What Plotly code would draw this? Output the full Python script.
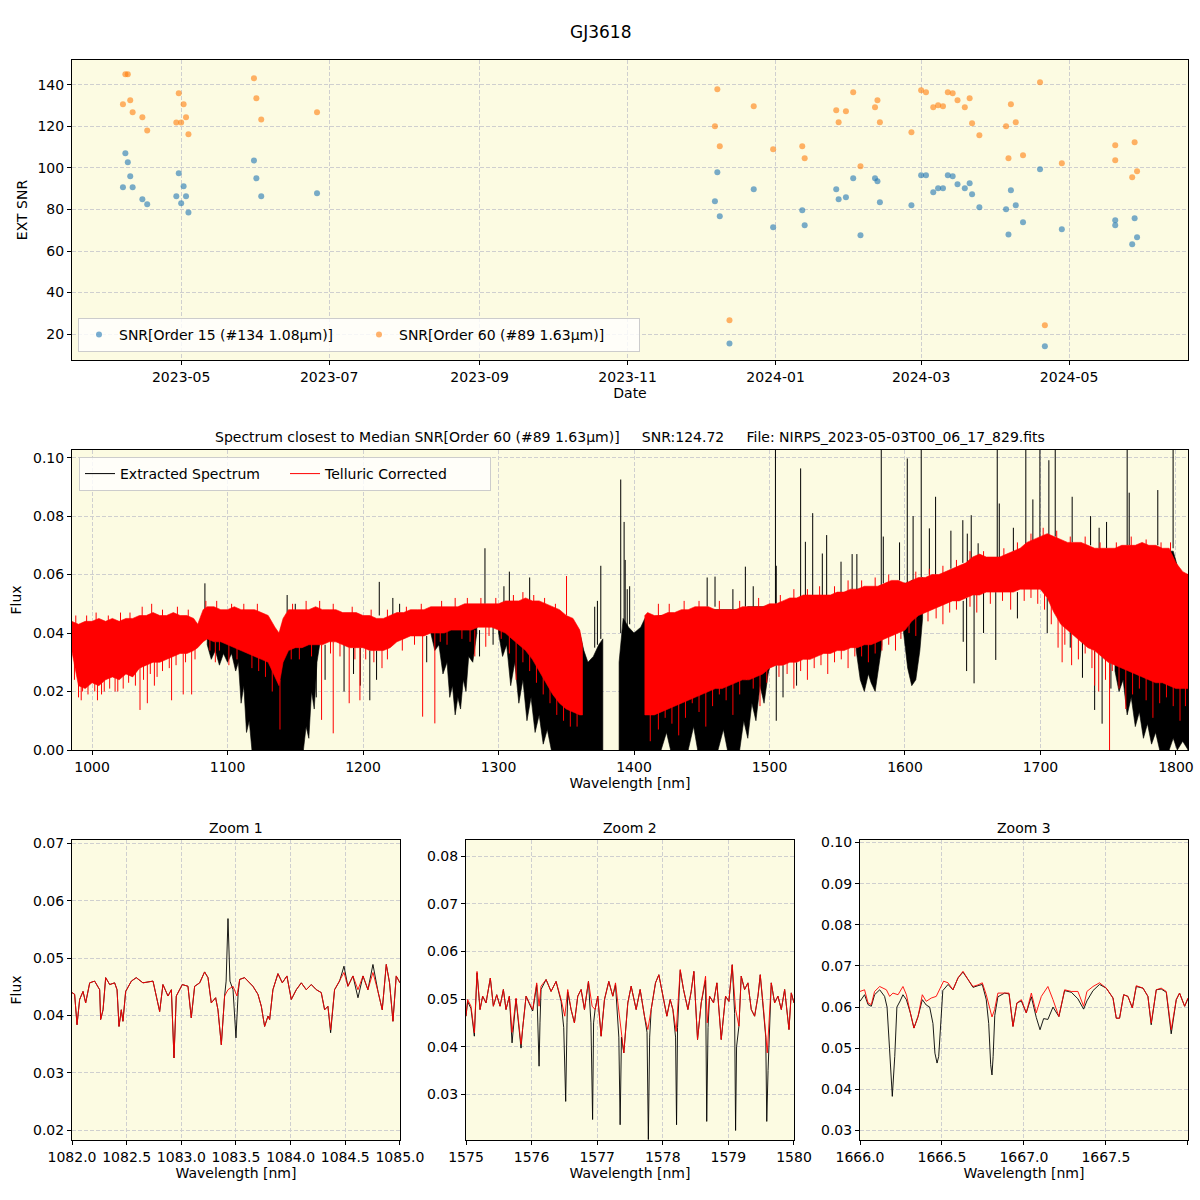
import plotly.graph_objects as go

# ---------------- SNR time series ----------------
snr_dates = [
    "2023-04-07", "2023-04-08", "2023-04-09", "2023-04-10", "2023-04-11", "2023-04-15", "2023-04-17",
    "2023-04-29", "2023-04-30", "2023-05-01", "2023-05-02", "2023-05-03", "2023-05-04",
    "2023-05-31", "2023-06-01", "2023-06-03", "2023-06-26",
    "2023-12-07", "2023-12-08", "2023-12-09", "2023-12-13", "2023-12-23", "2023-12-31",
    "2024-01-12", "2024-01-13", "2024-01-26", "2024-01-27", "2024-01-30",
    "2024-02-02", "2024-02-05", "2024-02-11", "2024-02-12", "2024-02-13", "2024-02-26",
    "2024-03-01", "2024-03-03", "2024-03-06", "2024-03-08", "2024-03-10", "2024-03-12",
    "2024-03-14", "2024-03-16", "2024-03-19", "2024-03-21", "2024-03-22", "2024-03-25",
    "2024-04-05", "2024-04-06", "2024-04-07", "2024-04-09", "2024-04-12", "2024-04-19",
    "2024-04-21", "2024-04-28", "2024-05-20", "2024-05-20", "2024-05-27", "2024-05-28", "2024-05-29",
]
snr_order15 = [
    90.7, 107.1, 102.7, 96.0, 90.7, 84.9, 82.5,
    86.4, 97.4, 83.0, 91.2, 86.4, 78.6,
    103.6, 95.0, 86.4, 87.8,
    84.0, 97.9, 76.7, 15.5, 89.7, 71.4,
    79.6, 72.4, 89.7, 84.9, 85.9,
    95.0, 67.6, 95.0, 93.6, 83.5, 82.0,
    96.5, 96.5, 88.3, 90.2, 90.2, 96.5,
    96.0, 92.1, 90.2, 92.6, 87.3, 81.1,
    80.1, 68.0, 89.3, 82.0, 73.8, 99.4,
    14.1, 70.5, 74.8, 72.4, 63.2, 75.8, 66.6,
]
snr_order60 = [
    130.7, 145.1, 145.1, 132.6, 126.8, 124.4, 118.1,
    121.9, 136.0, 121.9, 130.7, 124.4, 116.2,
    143.2, 133.6, 123.4, 126.8,
    120.1, 137.9, 110.5, 26.6, 129.7, 109.0,
    110.5, 104.7, 127.8, 122.0, 127.3,
    136.5, 100.8, 129.3, 132.6, 122.0, 117.2,
    137.4, 136.5, 129.3, 130.2, 129.7, 136.5,
    136.0, 132.6, 129.3, 133.6, 121.5, 115.8,
    120.1, 104.7, 130.7, 122.0, 106.1, 141.3,
    24.2, 102.3, 110.9, 103.7, 95.5, 112.4, 98.4,
]

# ---------------- Full spectrum (envelopes) ----------------
# Telluric corrected (red) band; None separates the two segments
red_w = [985, 990, 995, 1000, 1005, 1010, 1015, 1020, 1025, 1030, 1035, 1040, 1045, 1050, 1055, 1060,
         1065, 1070, 1075, 1078, 1082, 1085, 1090, 1095, 1100, 1105, 1110, 1115, 1120, 1125, 1130, 1135,
         1138, 1141, 1145, 1150, 1155, 1160, 1165, 1170, 1175, 1180, 1185, 1190, 1195, 1200, 1205, 1210,
         1215, 1220, 1225, 1230, 1235, 1240, 1245, 1250, 1255, 1260, 1265, 1270, 1275, 1280, 1285, 1290,
         1295, 1300, 1305, 1310, 1315, 1320, 1325, 1330, 1335, 1340, 1345, 1350, 1355, 1360, 1362, None,
         1408, 1410, 1415, 1420, 1425, 1430, 1435, 1440, 1445, 1450, 1455, 1460, 1465, 1470, 1475, 1480,
         1485, 1490, 1495, 1500, 1505, 1510, 1515, 1520, 1525, 1530, 1535, 1540, 1545, 1550, 1555, 1560,
         1565, 1570, 1575, 1580, 1585, 1590, 1595, 1600, 1605, 1610, 1615, 1620, 1625, 1630, 1635, 1640,
         1645, 1650, 1655, 1660, 1665, 1670, 1675, 1680, 1685, 1690, 1695, 1700, 1705, 1710, 1715, 1720,
         1725, 1730, 1735, 1740, 1745, 1750, 1755, 1760, 1765, 1770, 1775, 1780, 1785, 1790, 1795, 1800,
         1805, 1809]
red_hi = [0.044, 0.043, 0.044, 0.044, 0.045, 0.044, 0.045, 0.044, 0.045, 0.045, 0.046, 0.046, 0.047, 0.046, 0.046, 0.047,
          0.046, 0.046, 0.045, 0.043, 0.048, 0.049, 0.049, 0.048, 0.048, 0.049, 0.048, 0.048, 0.048, 0.047, 0.046, 0.042,
          0.040, 0.045, 0.048, 0.048, 0.048, 0.048, 0.049, 0.048, 0.048, 0.048, 0.047, 0.047, 0.047, 0.046, 0.046, 0.045,
          0.045, 0.046, 0.047, 0.047, 0.048, 0.048, 0.048, 0.049, 0.049, 0.049, 0.049, 0.049, 0.050, 0.050, 0.050, 0.050,
          0.050, 0.050, 0.051, 0.051, 0.051, 0.052, 0.051, 0.051, 0.050, 0.049, 0.048, 0.046, 0.045, 0.041, 0.036, None,
          0.046, 0.047, 0.046, 0.046, 0.047, 0.047, 0.048, 0.048, 0.049, 0.049, 0.049, 0.048, 0.048, 0.048, 0.048, 0.049,
          0.049, 0.049, 0.049, 0.050, 0.050, 0.051, 0.052, 0.052, 0.053, 0.053, 0.053, 0.053, 0.053, 0.054, 0.054, 0.055,
          0.055, 0.056, 0.056, 0.056, 0.057, 0.058, 0.058, 0.057, 0.058, 0.059, 0.059, 0.060, 0.060, 0.061, 0.062, 0.063,
          0.064, 0.066, 0.067, 0.066, 0.066, 0.066, 0.067, 0.068, 0.069, 0.071, 0.072, 0.073, 0.074, 0.073, 0.072, 0.071,
          0.071, 0.071, 0.070, 0.069, 0.069, 0.069, 0.069, 0.070, 0.070, 0.070, 0.071, 0.070, 0.070, 0.069, 0.069, 0.064,
          0.061, 0.060]
red_lo = [0.034, 0.022, 0.021, 0.023, 0.022, 0.024, 0.025, 0.024, 0.026, 0.025, 0.028, 0.029, 0.030, 0.030, 0.031, 0.032,
          0.033, 0.033, 0.034, 0.035, 0.037, 0.038, 0.037, 0.037, 0.036, 0.035, 0.034, 0.033, 0.032, 0.031, 0.030, 0.025,
          0.022, 0.030, 0.034, 0.035, 0.035, 0.036, 0.036, 0.036, 0.037, 0.037, 0.036, 0.035, 0.035, 0.035, 0.034, 0.034,
          0.034, 0.035, 0.037, 0.038, 0.039, 0.039, 0.039, 0.040, 0.040, 0.040, 0.041, 0.041, 0.041, 0.041, 0.042, 0.042,
          0.042, 0.041, 0.040, 0.038, 0.036, 0.034, 0.031, 0.027, 0.023, 0.019, 0.016, 0.014, 0.013, 0.012, 0.012, None,
          0.012, 0.012, 0.012, 0.013, 0.014, 0.015, 0.016, 0.017, 0.018, 0.019, 0.020, 0.021, 0.021, 0.022, 0.023, 0.024,
          0.024, 0.025, 0.026, 0.028, 0.029, 0.029, 0.030, 0.030, 0.031, 0.031, 0.032, 0.033, 0.033, 0.034, 0.034, 0.035,
          0.035, 0.036, 0.036, 0.037, 0.038, 0.039, 0.040, 0.041, 0.044, 0.046, 0.047, 0.048, 0.049, 0.050, 0.051, 0.051,
          0.052, 0.053, 0.053, 0.054, 0.054, 0.054, 0.054, 0.054, 0.055, 0.055, 0.055, 0.055, 0.052, 0.047, 0.043, 0.041,
          0.039, 0.037, 0.035, 0.034, 0.032, 0.030, 0.029, 0.028, 0.027, 0.026, 0.025, 0.024, 0.023, 0.023, 0.022, 0.021,
          0.021, 0.021]

# Extracted spectrum (black) telluric bands; None separates the bands
blk_w = [1085, 1088, 1091, 1094, 1097, 1100, 1103, 1106, 1108, 1110, 1112, 1114, 1116, 1118, 1130, 1135, 1138,
         1141, 1150, 1156, 1158, 1160, 1162, 1164, 1166, 1168, None,
         1250, 1253, 1256, 1259, 1262, 1264, 1266, 1268, 1270, 1272, 1274, 1276, 1278, 1281, 1284, None,
         1300, 1303, 1306, 1309, 1312, 1315, 1318, 1321, 1324, 1327, 1330, 1333, 1336, 1339, 1360, 1363, 1366,
         1370, 1374, 1377, None,
         1389, 1392, 1396, 1400, 1405, 1408, 1420, 1424, 1427, 1440, 1444, 1447, 1462, 1466, 1469, 1478, 1481,
         1484, 1487, 1490, 1493, 1496, 1499, 1501, None,
         1564, 1567, 1570, 1573, 1575, 1578, 1581, 1583, None,
         1599, 1602, 1605, 1608, 1611, 1613, None,
         1755, 1758, 1761, 1764, 1767, 1770, 1773, 1776, 1779, 1782, 1785, 1788, 1795, 1798, 1801, 1805, 1809]
blk_hi = [0.046, 0.046, 0.046, 0.046, 0.046, 0.046, 0.046, 0.046, 0.046, 0.046, 0.045, 0.045, 0.045, 0.045, 0.045, 0.041, 0.039,
          0.044, 0.046, 0.045, 0.045, 0.045, 0.045, 0.045, 0.045, 0.046, None,
          0.047, 0.047, 0.047, 0.047, 0.047, 0.047, 0.047, 0.047, 0.047, 0.047, 0.047, 0.047, 0.048, 0.048, 0.048, None,
          0.049, 0.049, 0.049, 0.049, 0.049, 0.049, 0.049, 0.049, 0.049, 0.049, 0.049, 0.048, 0.048, 0.047, 0.040, 0.034, 0.030,
          0.032, 0.036, 0.038, None,
          0.030, 0.045, 0.042, 0.040, 0.042, 0.045, 0.046, 0.046, 0.046, 0.047, 0.048, 0.048, 0.048, 0.048, 0.048, 0.048, 0.048,
          0.049, 0.049, 0.049, 0.049, 0.049, 0.049, 0.049, None,
          0.055, 0.055, 0.055, 0.055, 0.055, 0.055, 0.056, 0.056, None,
          0.057, 0.057, 0.058, 0.058, 0.058, 0.059, None,
          0.068, 0.068, 0.068, 0.069, 0.069, 0.069, 0.069, 0.070, 0.069, 0.069, 0.069, 0.068, 0.068, 0.068, 0.063, 0.060, 0.060]
blk_lo = [0.036, 0.031, 0.034, 0.029, 0.033, 0.030, 0.033, 0.027, 0.030, 0.016, 0.022, 0.006, 0.010, 0.0, 0.0, 0.0, 0.0,
          0.0, 0.0, 0.0, 0.008, 0.004, 0.020, 0.014, 0.030, 0.036, None,
          0.040, 0.034, 0.036, 0.026, 0.030, 0.018, 0.022, 0.012, 0.018, 0.014, 0.024, 0.020, 0.032, 0.030, 0.040, None,
          0.040, 0.032, 0.036, 0.022, 0.030, 0.016, 0.024, 0.010, 0.018, 0.006, 0.012, 0.002, 0.007, 0.0, 0.0, 0.0, 0.0,
          0.0, 0.0, 0.0, None,
          0.0, 0.0, 0.0, 0.0, 0.0, 0.0, 0.0, 0.006, 0.0, 0.0, 0.008, 0.0, 0.0, 0.007, 0.0, 0.0, 0.010,
          0.004, 0.016, 0.010, 0.022, 0.016, 0.026, 0.030, None,
          0.034, 0.024, 0.020, 0.026, 0.023, 0.020, 0.030, 0.036, None,
          0.040, 0.028, 0.022, 0.024, 0.034, 0.045, None,
          0.027, 0.020, 0.024, 0.012, 0.018, 0.008, 0.013, 0.004, 0.009, 0.002, 0.006, 0.0, 0.0, 0.004, 0.0, 0.003, 0.0]

# Black emission spikes: wavelength, base, peak
spike_w = [1083.3, 1144, 1150, 1212, 1222, 1227, 1290, 1304, 1308, 1323, 1371, 1373, 1375.5, 1390.2, 1392.7,
           1393.5, 1395, 1396.8, 1454, 1459.8, 1473, 1482.2, 1488, 1504.4, 1505, 1523, 1526.5, 1531.9, 1539,
           1542.2, 1552.8, 1561, 1564.5, 1582.5, 1584, 1596, 1601.7, 1606, 1612, 1618, 1622.6, 1633.9, 1642.7,
           1646, 1648.9, 1654, 1668.1, 1669.6, 1680, 1689.2, 1694.4, 1699.6, 1706.2, 1710.9, 1723.4, 1737,
           1743.3, 1748.8, 1764, 1765.5, 1786.6, 1797.9]
spike_base = [0.046, 0.047, 0.047, 0.046, 0.046, 0.047, 0.050, 0.050, 0.050, 0.051, 0.035, 0.036, 0.038, 0.040, 0.040,
              0.040, 0.040, 0.043, 0.049, 0.049, 0.048, 0.049, 0.049, 0.050, 0.050, 0.052, 0.052, 0.053, 0.053,
              0.053, 0.054, 0.055, 0.055, 0.056, 0.057, 0.058, 0.057, 0.058, 0.059, 0.060, 0.060, 0.062, 0.064,
              0.064, 0.065, 0.066, 0.066, 0.066, 0.068, 0.070, 0.071, 0.072, 0.073, 0.073, 0.071, 0.070,
              0.069, 0.069, 0.070, 0.070, 0.070, 0.069]
spike_peak = [0.057, 0.053, 0.050, 0.0575, 0.052, 0.050, 0.069, 0.056, 0.061, 0.059, 0.049, 0.051, 0.063, 0.0925, 0.078,
              0.065, 0.055, 0.056, 0.059, 0.0593, 0.055, 0.0627, 0.056, 0.105, 0.063, 0.0963, 0.0712, 0.081, 0.0672,
              0.0735, 0.0644, 0.067, 0.067, 0.105, 0.073, 0.071, 0.0997, 0.080, 0.105, 0.0758, 0.0866, 0.075, 0.0786,
              0.074, 0.0803, 0.0707, 0.105, 0.0843, 0.076, 0.105, 0.0857, 0.105, 0.0991, 0.105, 0.0866, 0.080,
              0.076, 0.078, 0.105, 0.088, 0.0889, 0.105]

# Black absorption lines below the red band: wavelength, top, bottom
bdip_w = [1165.5, 1172, 1186, 1193, 1198, 1205, 1210, 1247, 1286, 1296, 1505, 1510,
          1520, 1643, 1645.5, 1651, 1658, 1667, 1683, 1705, 1722, 1731, 1740, 1745.5, 1752]
bdip_top = [0.036, 0.036, 0.036, 0.035, 0.035, 0.034, 0.034, 0.039, 0.041, 0.042,
            0.029, 0.029, 0.030, 0.051, 0.052, 0.053, 0.054, 0.054, 0.054, 0.052, 0.041, 0.037, 0.034, 0.032, 0.030]
bdip_bot = [0.018, 0.024, 0.020, 0.026, 0.022, 0.017, 0.024, 0.030, 0.032, 0.036,
            0.010, 0.018, 0.022, 0.037, 0.027, 0.0228, 0.040, 0.0308, 0.045, 0.040, 0.035, 0.0247, 0.0137, 0.009, 0.021]

# Red absorption lines: wavelength, top, bottom
rdip_w = [990, 993, 1007, 1019, 1035.4, 1040.8, 1046, 1058.7, 1067.3, 1073.5, 1091, 1101, 1138.7,
          1169.4, 1178, 1189.8, 1197.7, 1244, 1253, 1282.5, 1290.6, 1313, 1350.2, 1716, 1740, 1751]
rdip_top = [0.026, 0.025, 0.024, 0.026, 0.029, 0.030, 0.031, 0.032, 0.033, 0.034, 0.037, 0.036, 0.024,
            0.036, 0.037, 0.035, 0.035, 0.039, 0.040, 0.041, 0.042, 0.037, 0.046, 0.043, 0.034, 0.030]
rdip_bot = [0.018, 0.020, 0.019, 0.020, 0.0137, 0.016, 0.022, 0.017, 0.019, 0.019, 0.030, 0.029, 0.007,
            0.0103, 0.0057, 0.016, 0.017, 0.0114, 0.0091, 0.032, 0.0353, 0.024, 0.0595, 0.030, 0.022, 0.0]

# Short red noise excursions on both edges of the band: wavelength, from, to
rhair_w = [987, 992, 997, 1002, 1004, 1009, 1013, 1017, 1023, 1027, 1032, 1038, 1043, 1048, 1052, 1057, 1062,
           1069, 1076, 1087, 1094, 1107, 1118, 1123, 1128, 1133, 1147, 1153, 1162, 1176, 1183, 1194, 1202,
           1208, 1214, 1218, 1229, 1238, 1257, 1262, 1273, 1279, 1293, 1302, 1308, 1318, 1323, 1328, 1333,
           1338, 1343, 1348, 1353, 1358, 1412, 1418, 1423, 1428, 1433, 1438, 1443, 1448, 1453, 1458, 1463,
           1468, 1473, 1478, 1483, 1488, 1493, 1498, 1507, 1513, 1518, 1523, 1528, 1533, 1538, 1543, 1548,
           1553, 1558, 1563, 1568, 1573, 1578, 1583, 1588, 1593, 1597, 1603, 1608, 1617, 1623, 1628, 1633,
           1638, 1648, 1653, 1663, 1672, 1678, 1688, 1693, 1698, 1703, 1708, 1713, 1718, 1723, 1728, 1733,
           1738, 1743, 1748, 1753, 1758, 1763, 1768, 1773, 1778, 1783, 1788, 1793, 1798, 1803, 1807,
           988, 996, 1003, 1012, 1021, 1028, 1037, 1044, 1052, 1063, 1071, 1084, 1092, 1103, 1112, 1122,
           1148, 1158, 1168, 1178, 1192, 1206, 1218, 1232, 1243, 1258, 1268, 1277, 1287, 1298, 1311, 1318,
           1326, 1334, 1342, 1418, 1426, 1437, 1448, 1463, 1478, 1492, 1508, 1518, 1528, 1537, 1548, 1558,
           1568, 1578, 1588, 1608, 1618, 1628, 1638, 1648, 1658, 1673, 1683, 1693, 1702, 1712, 1722, 1733,
           1744, 1756, 1767, 1778, 1789, 1796]
rhair_a = [0.030, 0.025, 0.024, 0.025, 0.025, 0.026, 0.027, 0.027, 0.028, 0.028, 0.029, 0.031, 0.032, 0.032, 0.033, 0.034, 0.035,
           0.035, 0.037, 0.040, 0.039, 0.037, 0.035, 0.034, 0.033, 0.030, 0.036, 0.037, 0.038, 0.039, 0.038, 0.037, 0.037,
           0.036, 0.036, 0.037, 0.040, 0.041, 0.042, 0.042, 0.043, 0.043, 0.044, 0.043, 0.040, 0.037, 0.035, 0.031, 0.027,
           0.023, 0.019, 0.017, 0.015, 0.014, 0.014, 0.015, 0.016, 0.017, 0.018, 0.019, 0.020, 0.021, 0.022, 0.023, 0.023,
           0.024, 0.025, 0.026, 0.026, 0.027, 0.028, 0.030, 0.031, 0.032, 0.032, 0.033, 0.033, 0.034, 0.035, 0.035, 0.036,
           0.036, 0.037, 0.037, 0.038, 0.038, 0.039, 0.040, 0.041, 0.042, 0.043, 0.045, 0.047, 0.049, 0.050, 0.051, 0.052,
           0.053, 0.054, 0.055, 0.056, 0.056, 0.056, 0.057, 0.057, 0.057, 0.055, 0.050, 0.046, 0.043, 0.041, 0.039, 0.037,
           0.036, 0.034, 0.032, 0.031, 0.030, 0.029, 0.028, 0.027, 0.026, 0.025, 0.025, 0.024, 0.023, 0.023, 0.023,
           0.042, 0.042, 0.043, 0.043, 0.043, 0.044, 0.045, 0.045, 0.045, 0.045, 0.045, 0.047, 0.048, 0.047, 0.047, 0.047,
           0.047, 0.047, 0.047, 0.047, 0.046, 0.045, 0.045, 0.046, 0.047, 0.048, 0.048, 0.049, 0.049, 0.049, 0.050, 0.051,
           0.050, 0.049, 0.048, 0.045, 0.046, 0.047, 0.048, 0.047, 0.048, 0.048, 0.050, 0.051, 0.052, 0.052, 0.053, 0.054,
           0.055, 0.055, 0.057, 0.058, 0.059, 0.060, 0.062, 0.065, 0.065, 0.066, 0.068, 0.071, 0.072, 0.072, 0.070, 0.070,
           0.068, 0.068, 0.069, 0.069, 0.068, 0.068]
rhair_b = [0.024, 0.017, 0.019, 0.020, 0.017, 0.020, 0.021, 0.020, 0.021, 0.023, 0.022, 0.024, 0.026, 0.025, 0.027, 0.028, 0.029,
           0.030, 0.031, 0.034, 0.034, 0.031, 0.028, 0.027, 0.025, 0.020, 0.031, 0.031, 0.032, 0.033, 0.032, 0.031, 0.031,
           0.030, 0.028, 0.031, 0.034, 0.036, 0.037, 0.036, 0.038, 0.037, 0.039, 0.038, 0.033, 0.030, 0.027, 0.023, 0.019,
           0.016, 0.012, 0.010, 0.008, 0.008, 0.003, 0.007, 0.011, 0.009, 0.005, 0.011, 0.016, 0.013, 0.008, 0.015, 0.019,
           0.017, 0.012, 0.019, 0.024, 0.021, 0.015, 0.023, 0.025, 0.026, 0.021, 0.027, 0.024, 0.028, 0.029, 0.026, 0.030,
           0.031, 0.028, 0.032, 0.032, 0.030, 0.033, 0.034, 0.036, 0.034, 0.038, 0.040, 0.039, 0.044, 0.045, 0.043, 0.047,
           0.048, 0.049, 0.047, 0.050, 0.051, 0.048, 0.051, 0.052, 0.050, 0.048, 0.043, 0.035, 0.036, 0.029, 0.031, 0.033,
           0.028, 0.020, 0.024, 0.027, 0.021, 0.014, 0.019, 0.021, 0.017, 0.011, 0.016, 0.018, 0.015, 0.010, 0.015,
           0.046, 0.046, 0.047, 0.046, 0.047, 0.047, 0.049, 0.050, 0.048, 0.049, 0.048, 0.051, 0.051, 0.050, 0.050, 0.050,
           0.050, 0.051, 0.051, 0.050, 0.049, 0.048, 0.048, 0.049, 0.050, 0.051, 0.052, 0.052, 0.052, 0.052, 0.053, 0.054,
           0.053, 0.052, 0.050, 0.050, 0.050, 0.051, 0.051, 0.051, 0.051, 0.052, 0.053, 0.055, 0.055, 0.056, 0.056, 0.058,
           0.058, 0.059, 0.060, 0.061, 0.062, 0.063, 0.065, 0.068, 0.068, 0.069, 0.071, 0.074, 0.076, 0.075, 0.073, 0.073,
           0.071, 0.071, 0.073, 0.072, 0.071, 0.071]

# ---------------- Zoom windows ----------------
z1_red_w = [1082.000, 1082.024, 1082.046, 1082.070, 1082.101, 1082.125, 1082.162, 1082.207, 1082.253, 1082.262,
            1082.284, 1082.308, 1082.345, 1082.390, 1082.412, 1082.430, 1082.451, 1082.466, 1082.491, 1082.543,
            1082.588, 1082.649, 1082.741, 1082.771, 1082.802, 1082.832, 1082.878, 1082.909, 1082.933, 1082.954,
            1083.009, 1083.061, 1083.091, 1083.122, 1083.168, 1083.213, 1083.244, 1083.274, 1083.314, 1083.335,
            1083.366, 1083.396, 1083.427, 1083.473, 1083.509, 1083.534, 1083.579, 1083.655, 1083.701, 1083.732,
            1083.762, 1083.793, 1083.808, 1083.838, 1083.884, 1083.924, 1083.966, 1084.006, 1084.052, 1084.098,
            1084.143, 1084.189, 1084.235, 1084.280, 1084.311, 1084.341, 1084.366, 1084.402, 1084.448, 1084.488,
            1084.524, 1084.570, 1084.616, 1084.662, 1084.707, 1084.753, 1084.799, 1084.838, 1084.875, 1084.905,
            1084.936, 1084.966, 1085.000]
z1_red_f = [0.0440, 0.0437, 0.0384, 0.0428, 0.0442, 0.0422, 0.0457, 0.0460, 0.0445, 0.0393,
            0.0410, 0.0466, 0.0454, 0.0457, 0.0445, 0.0381, 0.0410, 0.0390, 0.0442, 0.0460,
            0.0466, 0.0457, 0.0460, 0.0434, 0.0407, 0.0454, 0.0434, 0.0445, 0.0326, 0.0434,
            0.0454, 0.0451, 0.0396, 0.0451, 0.0457, 0.0476, 0.0466, 0.0422, 0.0431, 0.0410,
            0.0349, 0.0434, 0.0445, 0.0451, 0.0434, 0.0463, 0.0466, 0.0451, 0.0437, 0.0416,
            0.0381, 0.0399, 0.0393, 0.0445, 0.0473, 0.0457, 0.0469, 0.0428, 0.0445, 0.0457,
            0.0445, 0.0454, 0.0445, 0.0440, 0.0410, 0.0416, 0.0375, 0.0445, 0.0460, 0.0475,
            0.0451, 0.0469, 0.0445, 0.0469, 0.0445, 0.0475, 0.0442, 0.0410, 0.0489, 0.0457,
            0.0390, 0.0469, 0.0457]
z1_blk_w = [1082.000, 1082.024, 1082.046, 1082.070, 1082.101, 1082.125, 1082.162, 1082.207, 1082.253, 1082.262,
            1082.284, 1082.308, 1082.345, 1082.390, 1082.412, 1082.430, 1082.451, 1082.466, 1082.491, 1082.543,
            1082.588, 1082.649, 1082.741, 1082.771, 1082.802, 1082.832, 1082.878, 1082.909, 1082.933, 1082.954,
            1083.009, 1083.061, 1083.091, 1083.122, 1083.168, 1083.213, 1083.244, 1083.274, 1083.314, 1083.335,
            1083.366, 1083.396, 1083.410, 1083.427, 1083.445, 1083.473, 1083.500, 1083.520, 1083.534, 1083.579,
            1083.655, 1083.701, 1083.732, 1083.762, 1083.793, 1083.808, 1083.838, 1083.884, 1083.924, 1083.966,
            1084.006, 1084.052, 1084.098, 1084.143, 1084.189, 1084.235, 1084.280, 1084.311, 1084.341, 1084.366,
            1084.402, 1084.448, 1084.488, 1084.524, 1084.570, 1084.616, 1084.662, 1084.707, 1084.753, 1084.799,
            1084.838, 1084.875, 1084.905, 1084.936, 1084.966, 1085.000]
z1_blk_f = [0.0440, 0.0437, 0.0384, 0.0428, 0.0442, 0.0422, 0.0457, 0.0460, 0.0445, 0.0393,
            0.0410, 0.0466, 0.0454, 0.0457, 0.0445, 0.0381, 0.0410, 0.0390, 0.0442, 0.0460,
            0.0466, 0.0457, 0.0460, 0.0434, 0.0407, 0.0454, 0.0434, 0.0445, 0.0326, 0.0434,
            0.0454, 0.0451, 0.0396, 0.0451, 0.0457, 0.0476, 0.0466, 0.0422, 0.0431, 0.0410,
            0.0349, 0.0434, 0.0460, 0.0569, 0.0460, 0.0445, 0.0361, 0.0440, 0.0463, 0.0466,
            0.0451, 0.0437, 0.0416, 0.0381, 0.0399, 0.0393, 0.0445, 0.0473, 0.0457, 0.0469,
            0.0428, 0.0445, 0.0457, 0.0445, 0.0454, 0.0445, 0.0440, 0.0410, 0.0416, 0.0370,
            0.0445, 0.0460, 0.0486, 0.0451, 0.0469, 0.0431, 0.0469, 0.0445, 0.0489, 0.0442,
            0.0410, 0.0489, 0.0457, 0.0390, 0.0469, 0.0457]

z2_red_w = [1575.000, 1575.025, 1575.076, 1575.127, 1575.168, 1575.214, 1575.254, 1575.305, 1575.371, 1575.417,
            1575.468, 1575.519, 1575.570, 1575.610, 1575.661, 1575.702, 1575.763, 1575.839, 1575.865, 1575.916,
            1575.966, 1576.017, 1576.078, 1576.114, 1576.144, 1576.221, 1576.297, 1576.373, 1576.450, 1576.506,
            1576.551, 1576.602, 1576.653, 1576.704, 1576.755, 1576.806, 1576.867, 1576.923, 1576.968, 1577.009,
            1577.060, 1577.111, 1577.177, 1577.238, 1577.279, 1577.345, 1577.406, 1577.467, 1577.518, 1577.594,
            1577.655, 1577.721, 1577.772, 1577.823, 1577.889, 1577.940, 1578.001, 1578.062, 1578.113, 1578.154,
            1578.204, 1578.266, 1578.316, 1578.383, 1578.433, 1578.474, 1578.530, 1578.586, 1578.652, 1578.678,
            1578.713, 1578.774, 1578.825, 1578.891, 1578.957, 1579.008, 1579.059, 1579.110, 1579.161, 1579.196,
            1579.247, 1579.298, 1579.349, 1579.400, 1579.451, 1579.486, 1579.537, 1579.593, 1579.654, 1579.705,
            1579.756, 1579.807, 1579.858, 1579.924, 1579.959, 1580.000]
z2_red_f = [0.0464, 0.0499, 0.0485, 0.0429, 0.0558, 0.0478, 0.0506, 0.0492, 0.0544, 0.0485,
            0.0509, 0.0485, 0.0520, 0.0478, 0.0506, 0.0430, 0.0502, 0.0405, 0.0440, 0.0506,
            0.0492, 0.0478, 0.0534, 0.0485, 0.0527, 0.0541, 0.0516, 0.0537, 0.0499, 0.0464,
            0.0520, 0.0478, 0.0450, 0.0506, 0.0520, 0.0478, 0.0537, 0.0485, 0.0478, 0.0506,
            0.0422, 0.0499, 0.0537, 0.0506, 0.0534, 0.0450, 0.0387, 0.0492, 0.0527, 0.0478,
            0.0520, 0.0464, 0.0436, 0.0478, 0.0534, 0.0551, 0.0506, 0.0464, 0.0499, 0.0478,
            0.0432, 0.0562, 0.0520, 0.0478, 0.0516, 0.0558, 0.0415, 0.0492, 0.0548, 0.0450,
            0.0506, 0.0492, 0.0534, 0.0415, 0.0506, 0.0495, 0.0572, 0.0478, 0.0443, 0.0548,
            0.0520, 0.0534, 0.0478, 0.0464, 0.0506, 0.0551, 0.0478, 0.0387, 0.0534, 0.0492,
            0.0506, 0.0478, 0.0520, 0.0436, 0.0513, 0.0492]
z2_blk_w = [1575.000, 1575.025, 1575.076, 1575.127, 1575.168, 1575.214, 1575.254, 1575.305, 1575.371, 1575.417,
            1575.468, 1575.519, 1575.570, 1575.610, 1575.661, 1575.702, 1575.763, 1575.839, 1575.865, 1575.916,
            1575.966, 1576.017, 1576.078, 1576.100, 1576.114, 1576.128, 1576.144, 1576.221, 1576.297, 1576.373,
            1576.450, 1576.490, 1576.520, 1576.540, 1576.551, 1576.602, 1576.653, 1576.704, 1576.755, 1576.806,
            1576.867, 1576.905, 1576.930, 1576.945, 1576.968, 1577.009, 1577.060, 1577.111, 1577.177, 1577.238,
            1577.279, 1577.330, 1577.350, 1577.370, 1577.406, 1577.467, 1577.518, 1577.594, 1577.655, 1577.721,
            1577.760, 1577.780, 1577.800, 1577.823, 1577.889, 1577.940, 1578.001, 1578.062, 1578.113, 1578.154,
            1578.195, 1578.210, 1578.225, 1578.266, 1578.316, 1578.383, 1578.433, 1578.474, 1578.530, 1578.586,
            1578.652, 1578.670, 1578.690, 1578.713, 1578.774, 1578.825, 1578.891, 1578.957, 1579.008, 1579.059,
            1579.095, 1579.110, 1579.125, 1579.161, 1579.196, 1579.247, 1579.298, 1579.349, 1579.400, 1579.451,
            1579.486, 1579.537, 1579.570, 1579.585, 1579.605, 1579.654, 1579.705, 1579.756, 1579.807, 1579.858,
            1579.924, 1579.959, 1580.000]
z2_blk_f = [0.0464, 0.0495, 0.0480, 0.0422, 0.0555, 0.0478, 0.0506, 0.0492, 0.0544, 0.0485,
            0.0509, 0.0485, 0.0520, 0.0478, 0.0506, 0.0408, 0.0500, 0.0397, 0.0440, 0.0506,
            0.0490, 0.0475, 0.0530, 0.0450, 0.0359, 0.0450, 0.0520, 0.0541, 0.0516, 0.0537,
            0.0495, 0.0440, 0.0285, 0.0450, 0.0515, 0.0478, 0.0450, 0.0506, 0.0520, 0.0478,
            0.0537, 0.0450, 0.0247, 0.0450, 0.0478, 0.0506, 0.0422, 0.0499, 0.0537, 0.0506,
            0.0530, 0.0420, 0.0236, 0.0420, 0.0387, 0.0492, 0.0527, 0.0478, 0.0520, 0.0464,
            0.0430, 0.0205, 0.0420, 0.0478, 0.0534, 0.0551, 0.0506, 0.0464, 0.0499, 0.0478,
            0.0420, 0.0236, 0.0440, 0.0560, 0.0520, 0.0478, 0.0516, 0.0558, 0.0415, 0.0492,
            0.0540, 0.0243, 0.0440, 0.0506, 0.0492, 0.0534, 0.0415, 0.0506, 0.0495, 0.0572,
            0.0470, 0.0224, 0.0400, 0.0443, 0.0548, 0.0520, 0.0534, 0.0478, 0.0464, 0.0506,
            0.0551, 0.0470, 0.0420, 0.0243, 0.0350, 0.0534, 0.0492, 0.0506, 0.0478, 0.0520,
            0.0436, 0.0513, 0.0492]

z3_red_w = [1666.000, 1666.028, 1666.049, 1666.069, 1666.089, 1666.120, 1666.161, 1666.181, 1666.201, 1666.232,
            1666.262, 1666.283, 1666.307, 1666.329, 1666.354, 1666.380, 1666.404, 1666.435, 1666.465, 1666.486,
            1666.510, 1666.537, 1666.567, 1666.598, 1666.628, 1666.659, 1666.689, 1666.720, 1666.746, 1666.770,
            1666.791, 1666.805, 1666.821, 1666.841, 1666.882, 1666.909, 1666.933, 1666.957, 1666.984, 1667.014,
            1667.045, 1667.075, 1667.106, 1667.146, 1667.177, 1667.213, 1667.248, 1667.289, 1667.329, 1667.364,
            1667.384, 1667.421, 1667.461, 1667.502, 1667.543, 1667.563, 1667.583, 1667.608, 1667.634, 1667.661,
            1667.685, 1667.726, 1667.756, 1667.776, 1667.807, 1667.837, 1667.868, 1667.898, 1667.929, 1667.949,
            1667.980, 1668.000]
z3_red_f = [0.0638, 0.0642, 0.0610, 0.0606, 0.0638, 0.0650, 0.0642, 0.0626, 0.0634, 0.0630,
            0.0650, 0.0630, 0.0586, 0.0549, 0.0577, 0.0630, 0.0614, 0.0622, 0.0626, 0.0642,
            0.0663, 0.0659, 0.0642, 0.0671, 0.0687, 0.0667, 0.0650, 0.0654, 0.0659, 0.0630,
            0.0598, 0.0576, 0.0594, 0.0634, 0.0634, 0.0634, 0.0553, 0.0610, 0.0618, 0.0586,
            0.0634, 0.0586, 0.0626, 0.0650, 0.0618, 0.0577, 0.0642, 0.0638, 0.0638, 0.0602,
            0.0638, 0.0650, 0.0659, 0.0646, 0.0622, 0.0573, 0.0573, 0.0630, 0.0626, 0.0598,
            0.0652, 0.0646, 0.0626, 0.0561, 0.0642, 0.0646, 0.0638, 0.0545, 0.0618, 0.0634,
            0.0602, 0.0622]
z3_blk_w = [1666.000, 1666.028, 1666.049, 1666.069, 1666.089, 1666.120, 1666.150, 1666.165, 1666.180, 1666.197,
            1666.212, 1666.225, 1666.245, 1666.262, 1666.283, 1666.307, 1666.329, 1666.354, 1666.380, 1666.404,
            1666.425, 1666.445, 1666.457, 1666.470, 1666.480, 1666.492, 1666.505, 1666.537, 1666.567, 1666.598,
            1666.628, 1666.659, 1666.689, 1666.720, 1666.746, 1666.770, 1666.785, 1666.797, 1666.805, 1666.812,
            1666.822, 1666.841, 1666.882, 1666.909, 1666.933, 1666.957, 1666.984, 1667.014, 1667.045, 1667.075,
            1667.098, 1667.120, 1667.146, 1667.177, 1667.213, 1667.248, 1667.289, 1667.329, 1667.364, 1667.384,
            1667.421, 1667.461, 1667.502, 1667.543, 1667.563, 1667.583, 1667.608, 1667.634, 1667.661, 1667.685,
            1667.726, 1667.756, 1667.776, 1667.807, 1667.837, 1667.868, 1667.898, 1667.929, 1667.949, 1667.980,
            1668.000]
z3_blk_f = [0.0614, 0.0630, 0.0606, 0.0602, 0.0630, 0.0642, 0.0626, 0.0600, 0.0500, 0.0383,
            0.0480, 0.0600, 0.0615, 0.0630, 0.0618, 0.0586, 0.0549, 0.0577, 0.0618, 0.0605,
            0.0600, 0.0560, 0.0488, 0.0464, 0.0480, 0.0560, 0.0640, 0.0655, 0.0642, 0.0671,
            0.0685, 0.0667, 0.0648, 0.0652, 0.0655, 0.0618, 0.0560, 0.0460, 0.0435, 0.0480,
            0.0580, 0.0625, 0.0634, 0.0632, 0.0553, 0.0610, 0.0615, 0.0586, 0.0625, 0.0575,
            0.0545, 0.0572, 0.0570, 0.0600, 0.0577, 0.0640, 0.0636, 0.0620, 0.0595, 0.0615,
            0.0640, 0.0655, 0.0646, 0.0622, 0.0573, 0.0573, 0.0630, 0.0626, 0.0598, 0.0650,
            0.0646, 0.0626, 0.0557, 0.0642, 0.0644, 0.0636, 0.0535, 0.0618, 0.0634, 0.0602,
            0.0620]

# ---------------- helpers ----------------
def split_none(ws, his, los):
    groups, cur = [], []
    for w, h, lo in zip(ws, his, los):
        if w is None:
            if cur:
                groups.append(cur)
            cur = []
        else:
            cur.append((w, h, lo))
    if cur:
        groups.append(cur)
    return groups


def band_polygons(ws, his, los):
    xs, ys = [], []
    for g in split_none(ws, his, los):
        w = [p[0] for p in g]
        h = [p[1] for p in g]
        lo = [p[2] for p in g]
        xs += w + w[::-1] + [w[0], None]
        ys += h + lo[::-1] + [h[0], None]
    return xs, ys


def vsegments(ws, a, b):
    xs, ys = [], []
    for w, y0, y1 in zip(ws, a, b):
        xs += [w, w, None]
        ys += [y0, y1, None]
    return xs, ys


W, H = 1200, 1200
def dx(p0, p1):
    return [p0 / W, p1 / W]
def dy(p0, p1):
    return [1 - p1 / H, 1 - p0 / H]

FONT = "DejaVu Sans"
FS = 14
BG = "#FCFBE2"
GRID = "#CFCFCF"

def axis_style(**kw):
    d = dict(showline=True, linecolor="black", linewidth=1, mirror=True, automargin=False,
             ticks="outside", ticklen=4, tickcolor="black", tickwidth=1,
             showgrid=True, gridcolor=GRID, griddash="4px,2px", gridwidth=1,
             zeroline=False, tickfont=dict(family=FONT, size=FS, color="black"),
             title_font=dict(family=FONT, size=FS, color="black"))
    d.update(kw)
    return d

fig = go.Figure()

# --- top: SNR ---
fig.add_trace(go.Scatter(x=snr_dates, y=snr_order15, mode="markers", xaxis="x", yaxis="y",
                         name="SNR[Order 15 (#134 1.08μm)]", legend="legend",
                         marker=dict(color="#1f77b4", size=6, opacity=0.6, line=dict(width=0))))
fig.add_trace(go.Scatter(x=snr_dates, y=snr_order60, mode="markers", xaxis="x", yaxis="y",
                         name="SNR[Order 60 (#89 1.63μm)]", legend="legend",
                         marker=dict(color="#ff7f0e", size=6, opacity=0.6, line=dict(width=0))))

# --- middle: full spectrum ---
bx, by = band_polygons(blk_w, blk_hi, blk_lo)
fig.add_trace(go.Scatter(x=bx, y=by, mode="lines", fill="toself", fillcolor="black",
                         line=dict(width=0.6, color="black"), xaxis="x2", yaxis="y2",
                         showlegend=False, hoverinfo="skip"))
sx, sy = vsegments(bdip_w, bdip_top, bdip_bot)
fig.add_trace(go.Scatter(x=sx, y=sy, mode="lines", line=dict(width=1, color="black"),
                         xaxis="x2", yaxis="y2", showlegend=False, hoverinfo="skip"))
sx, sy = vsegments(spike_w, spike_base, spike_peak)
fig.add_trace(go.Scatter(x=sx, y=sy, mode="lines", line=dict(width=1, color="black"),
                         xaxis="x2", yaxis="y2", name="Extracted Spectrum", legend="legend2"))
rx, ry = band_polygons(red_w, red_hi, red_lo)
fig.add_trace(go.Scatter(x=rx, y=ry, mode="lines", fill="toself", fillcolor="red",
                         line=dict(width=0.6, color="red"), xaxis="x2", yaxis="y2",
                         showlegend=False, hoverinfo="skip"))
sx, sy = vsegments(rhair_w, rhair_a, rhair_b)
fig.add_trace(go.Scatter(x=sx, y=sy, mode="lines", line=dict(width=1, color="red"),
                         xaxis="x2", yaxis="y2", showlegend=False, hoverinfo="skip"))
sx, sy = vsegments(rdip_w, rdip_top, rdip_bot)
fig.add_trace(go.Scatter(x=sx, y=sy, mode="lines", line=dict(width=1, color="red"),
                         xaxis="x2", yaxis="y2", name="Telluric Corrected", legend="legend2"))

# --- zooms ---
for i, (bw, bf, rw, rf) in enumerate([(z1_blk_w, z1_blk_f, z1_red_w, z1_red_f),
                                      (z2_blk_w, z2_blk_f, z2_red_w, z2_red_f),
                                      (z3_blk_w, z3_blk_f, z3_red_w, z3_red_f)]):
    xa, ya = "x%d" % (i + 3), "y%d" % (i + 3)
    fig.add_trace(go.Scatter(x=bw, y=bf, mode="lines", line=dict(width=0.9, color="black"),
                             xaxis=xa, yaxis=ya, showlegend=False))
    fig.add_trace(go.Scatter(x=rw, y=rf, mode="lines", line=dict(width=0.9, color="red"),
                             xaxis=xa, yaxis=ya, showlegend=False))

fig.update_layout(
    width=W, height=H, margin=dict(l=0, r=0, t=0, b=0),
    paper_bgcolor="white", plot_bgcolor=BG,
    font=dict(family=FONT, size=FS, color="black"),
    xaxis=axis_style(domain=dx(72, 1188), anchor="y", type="date",
                     range=["2023-03-17", "2024-06-19"], tick0="2023-05-01", dtick="M2",
                     tickformat="%Y-%m", title=dict(text="Date", standoff=2)),
    yaxis=axis_style(domain=dy(60, 360), anchor="x", range=[7.5, 152], tick0=0, dtick=20,
                     title=dict(text="EXT SNR", standoff=6)),
    xaxis2=axis_style(domain=dx(72, 1188), anchor="y2", range=[985.2, 1808.9], tick0=1000, dtick=100,
                      title=dict(text="Wavelength [nm]", standoff=2)),
    yaxis2=axis_style(domain=dy(450, 750), anchor="x2", range=[0, 0.1026], tick0=0, dtick=0.02,
                      tickformat=".2f", title=dict(text="Flux", standoff=8)),
    xaxis3=axis_style(domain=dx(72, 400), anchor="y3", range=[1082, 1085.0005], tick0=1082, dtick=0.5,
                      tickformat=".1f", title=dict(text="Wavelength [nm]", standoff=2)),
    yaxis3=axis_style(domain=dy(840, 1140), anchor="x3", range=[0.0183, 0.0706], tick0=0, dtick=0.01,
                      tickformat=".2f", title=dict(text="Flux", standoff=8)),
    xaxis4=axis_style(domain=dx(466, 794), anchor="y4", range=[1575, 1580.0005], tick0=1575, dtick=1,
                      tickformat="d", title=dict(text="Wavelength [nm]", standoff=2)),
    yaxis4=axis_style(domain=dy(840, 1140), anchor="x4", range=[0.0204, 0.0834], tick0=0, dtick=0.01,
                      tickformat=".2f"),
    xaxis5=axis_style(domain=dx(860, 1188), anchor="y5", range=[1666, 1668.0005], tick0=1666, dtick=0.5,
                      tickformat=".1f", title=dict(text="Wavelength [nm]", standoff=2)),
    yaxis5=axis_style(domain=dy(840, 1140), anchor="x5", range=[0.0277, 0.1006], tick0=0, dtick=0.01,
                      tickformat=".2f"),
    legend=dict(x=78 / W, y=1 - 352 / H, xanchor="left", yanchor="bottom", orientation="h",
                bgcolor="rgba(255,255,255,0.8)", bordercolor="#CCCCCC", borderwidth=1,
                font=dict(family=FONT, size=FS), entrywidth=235, entrywidthmode="pixels"),
    legend2=dict(x=79 / W, y=1 - 457 / H, xanchor="left", yanchor="top", orientation="h",
                 bgcolor="rgba(255,255,255,0.8)", bordercolor="#CCCCCC", borderwidth=1,
                 font=dict(family=FONT, size=FS), entrywidth=160, entrywidthmode="pixels"),
    annotations=[
        dict(text="GJ3618", x=0.5, y=1 - 32 / H, xref="paper", yref="paper", showarrow=False,
             font=dict(family=FONT, size=17), xanchor="center", yanchor="middle"),
        dict(text="Spectrum closest to Median SNR[Order 60 (#89 1.63μm)]     SNR:124.72     File: NIRPS_2023-05-03T00_06_17_829.fits",
             x=630 / W, y=1 - 437 / H, xref="paper", yref="paper", showarrow=False,
             font=dict(family=FONT, size=FS), xanchor="center", yanchor="middle"),
        dict(text="Zoom 1", x=236 / W, y=1 - 828 / H, xref="paper", yref="paper", showarrow=False,
             font=dict(family=FONT, size=FS), xanchor="center", yanchor="middle"),
        dict(text="Zoom 2", x=630 / W, y=1 - 828 / H, xref="paper", yref="paper", showarrow=False,
             font=dict(family=FONT, size=FS), xanchor="center", yanchor="middle"),
        dict(text="Zoom 3", x=1024 / W, y=1 - 828 / H, xref="paper", yref="paper", showarrow=False,
             font=dict(family=FONT, size=FS), xanchor="center", yanchor="middle"),
    ],
)

fig.write_html("out.html")
